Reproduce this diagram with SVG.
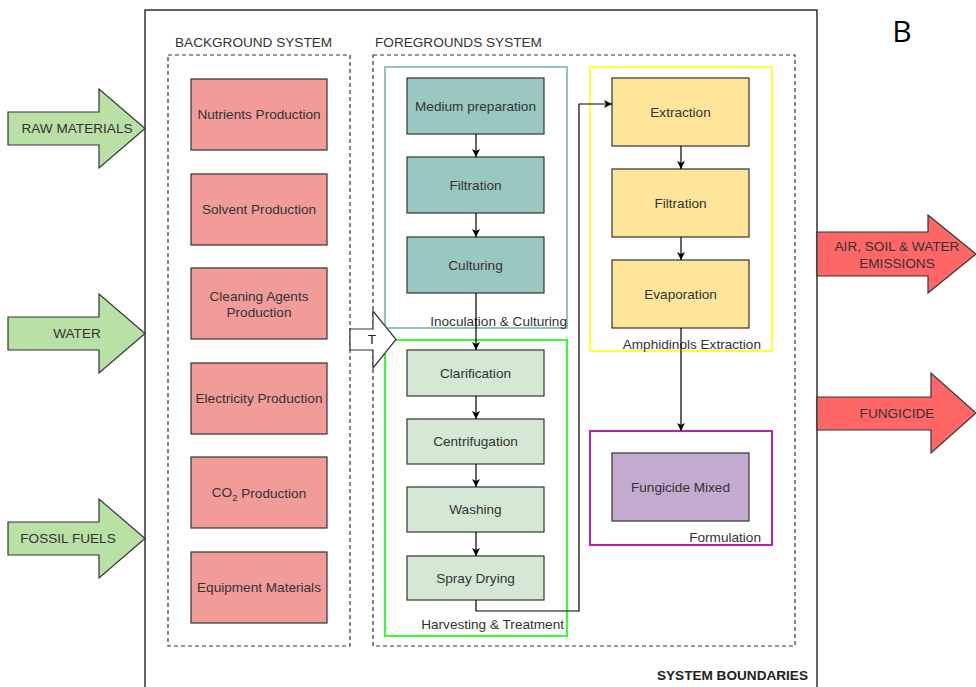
<svg xmlns="http://www.w3.org/2000/svg" width="976" height="687" viewBox="0 0 976 687">
<defs>
<style>
text{font-family:"Liberation Sans",Arial,sans-serif;font-size:13.6px;fill:#333;}
.c{text-anchor:middle;dominant-baseline:central;}
.e{text-anchor:end;}
.node{stroke:#333;stroke-width:1.2;}
.bg{fill:#f19c99;}
.teal{fill:#9ac7bf;}
.grn{fill:#d5e8d4;}
.yel{fill:#ffe599;}
.pur{fill:#c3abd0;}
.dash{fill:none;stroke:#333;stroke-width:1.2;stroke-dasharray:4,3;}
.conn{fill:none;stroke:#000;stroke-width:1.2;}
.inA{fill:#b9e0a5;stroke:#333;stroke-width:1.2;}
.outA{fill:#ff6666;stroke:#333;stroke-width:1.2;}
</style>
<marker id="ah" markerWidth="10" markerHeight="10" refX="9" refY="5" orient="auto" markerUnits="userSpaceOnUse">
<path d="M1,1 L9,5 L1,9 L3,5 Z" fill="#000"/>
</marker>
</defs>
<rect width="976" height="687" fill="#fff"/>

<g id="system-boundary">
<rect x="145" y="10" width="672" height="700" fill="none" stroke="#000" stroke-width="1.2"/>
<text x="808" y="680" class="e" style="font-weight:bold;fill:#222">SYSTEM BOUNDARIES</text>
</g>
<text x="902" y="42" style="font-family:'Open Sans','Liberation Sans',sans-serif;font-size:30px;fill:#000" text-anchor="middle">B</text>

<g id="background-system">
<rect x="168" y="55" width="182" height="591" class="dash"/>
<text x="175" y="47">BACKGROUND SYSTEM</text>
</g>
<g id="foreground-system">
<rect x="373" y="55" width="422" height="591" class="dash"/>
<text x="375" y="47">FOREGROUNDS SYSTEM</text>
</g>

<g id="inoculation-group">
<rect x="385" y="67" width="182" height="261" fill="none" stroke="#8cc6bd" stroke-width="2"/>
<text x="567" y="326" class="e">Inoculation &amp; Culturing</text>
</g>
<g id="harvesting-group">
<rect x="385" y="340" width="182" height="296" fill="none" stroke="#33ff33" stroke-width="2"/>
<text x="564" y="629" class="e">Harvesting &amp; Treatment</text>
</g>
<g id="extraction-group">
<rect x="590" y="67" width="182" height="284" fill="none" stroke="#ffff33" stroke-width="2"/>
<text x="761" y="349" class="e">Amphidinols Extraction</text>
</g>
<g id="formulation-group">
<rect x="590" y="431" width="182" height="114" fill="none" stroke="#b521b5" stroke-width="2"/>
<text x="761" y="542" class="e">Formulation</text>
</g>

<g id="nutrients"><rect x="191" y="79" width="136" height="71" class="node bg"/><text x="259" y="114.5" class="c">Nutrients Production</text></g>
<g id="solvent"><rect x="191" y="174" width="136" height="71" class="node bg"/><text x="259" y="209.5" class="c">Solvent Production</text></g>
<g id="cleaning"><rect x="191" y="268" width="136" height="71" class="node bg"/><text x="259" y="296" class="c">Cleaning Agents</text><text x="259" y="312" class="c">Production</text></g>
<g id="electricity"><rect x="191" y="363" width="136" height="71" class="node bg"/><text x="259" y="398.5" class="c">Electricity Production</text></g>
<g id="co2"><rect x="191" y="457" width="136" height="71" class="node bg"/><text x="259" y="492.5" class="c">CO<tspan dy="4" style="font-size:9.5px">2</tspan><tspan dy="-4"> Production</tspan></text></g>
<g id="equipment"><rect x="191" y="552" width="136" height="71" class="node bg"/><text x="259" y="587.5" class="c">Equipment Materials</text></g>

<g id="medium"><rect x="407" y="78" width="137" height="56" class="node teal"/><text x="475.5" y="106" class="c">Medium preparation</text></g>
<g id="filtration1"><rect x="407" y="157" width="137" height="56" class="node teal"/><text x="475.5" y="185" class="c">Filtration</text></g>
<g id="culturing"><rect x="407" y="237" width="137" height="56" class="node teal"/><text x="475.5" y="265" class="c">Culturing</text></g>

<g id="clarification"><rect x="407" y="350" width="137" height="46" class="node grn"/><text x="475.5" y="373" class="c">Clarification</text></g>
<g id="centrifugation"><rect x="407" y="419" width="137" height="45" class="node grn"/><text x="475.5" y="441.5" class="c">Centrifugation</text></g>
<g id="washing"><rect x="407" y="487" width="137" height="45" class="node grn"/><text x="475.5" y="509.5" class="c">Washing</text></g>
<g id="spray"><rect x="407" y="556" width="137" height="44" class="node grn"/><text x="475.5" y="578" class="c">Spray Drying</text></g>

<g id="extraction"><rect x="612" y="78" width="137" height="68" class="node yel"/><text x="680.5" y="112" class="c">Extraction</text></g>
<g id="filtration2"><rect x="612" y="169" width="137" height="68" class="node yel"/><text x="680.5" y="203" class="c">Filtration</text></g>
<g id="evaporation"><rect x="612" y="260" width="137" height="68" class="node yel"/><text x="680.5" y="294" class="c">Evaporation</text></g>

<g id="fungicide-mixed"><rect x="612" y="453" width="137" height="68" class="node pur"/><text x="680.5" y="487" class="c">Fungicide Mixed</text></g>

<g id="raw-materials"><path d="M8,112 L99,112 L99,89 L145,128.5 L99,168 L99,145 L8,145 Z" class="inA"/><text x="77" y="128.5" class="c">RAW MATERIALS</text></g>
<g id="water"><path d="M8,317 L99,317 L99,294 L145,333.5 L99,373 L99,350 L8,350 Z" class="inA"/><text x="77" y="333.5" class="c">WATER</text></g>
<g id="fossil-fuels"><path d="M8,522 L99,522 L99,499 L145,538.5 L99,578 L99,555 L8,555 Z" class="inA"/><text x="68" y="538.5" class="c">FOSSIL FUELS</text></g>

<g id="emissions"><path d="M817,232 L928,232 L928,215 L976,254 L928,293 L928,276 L817,276 Z" class="outA"/><text x="897" y="246" class="c">AIR, SOIL &amp; WATER</text><text x="897" y="263" class="c">EMISSIONS</text></g>
<g id="fungicide-out"><path d="M817,397 L931,397 L931,373 L976,413 L931,453 L931,430 L817,430 Z" class="outA"/><text x="897" y="413" class="c">FUNGICIDE</text></g>

<g id="transfer"><path d="M350,329 L373,329 L373,311 L396,339.5 L373,368 L373,350 L350,350 Z" fill="#fff" stroke="#333" stroke-width="1.2"/><text x="372" y="339" class="c" style="fill:#222">T</text></g>

<g id="connectors">
<path d="M476,134 L476,157" class="conn" marker-end="url(#ah)"/>
<path d="M476,213 L476,237" class="conn" marker-end="url(#ah)"/>
<path d="M476,293 L476,350" class="conn" marker-end="url(#ah)"/>
<path d="M476,396 L476,419" class="conn" marker-end="url(#ah)"/>
<path d="M476,464 L476,487" class="conn" marker-end="url(#ah)"/>
<path d="M476,532 L476,556" class="conn" marker-end="url(#ah)"/>
<path d="M476,600 L476,611 L579,611 L579,104 L612,104" class="conn" stroke="#333" marker-end="url(#ah)"/>
<path d="M681,146 L681,169" class="conn" marker-end="url(#ah)"/>
<path d="M681,237 L681,260" class="conn" marker-end="url(#ah)"/>
<path d="M681,328 L681,431" class="conn" marker-end="url(#ah)"/>
</g>
</svg>
